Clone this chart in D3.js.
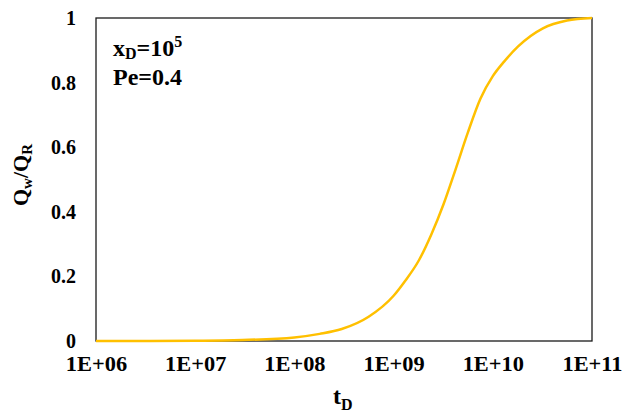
<!DOCTYPE html>
<html>
<head>
<meta charset="utf-8">
<script src="https://cdn.jsdelivr.net/npm/d3@7"></script>
<style>
  body { margin: 0; background: #fff; }
</style>
</head>
<body>
<script>
// dimensionless time and recovery ratio
const tD = [1e6, 3e6, 1e7, 3e7, 1e8, 1.8e8, 3e8, 5.6e8, 1e9, 1.3e9, 1.8e9, 2.4e9,
  3.2e9, 4.2e9, 5.6e9, 7.5e9, 1e10, 1.3e10, 1.8e10, 3.2e10, 5.6e10, 1e11];
const ratio = [0, 0.0002, 0.0008, 0.003, 0.011, 0.022, 0.037, 0.075, 0.14, 0.185, 0.25, 0.33,
  0.425, 0.53, 0.645, 0.75, 0.82, 0.865, 0.912, 0.968, 0.992, 1.0];

const xTicks = [1e6, 1e7, 1e8, 1e9, 1e10, 1e11];
const xTickLabels = ["1E+06", "1E+07", "1E+08", "1E+09", "1E+10", "1E+11"];
const yTicks = [0, 0.2, 0.4, 0.6, 0.8, 1];

const width = 626;
const height = 414;
const margin = { left: 96, right: 34, top: 18, bottom: 73 };
const font = "Liberation Serif";

const svg = d3.select("body").append("svg")
  .attr("width", width).attr("height", height)
  .attr("font-family", font).attr("font-weight", "bold");

const x = d3.scaleLog().domain([1e6, 1e11]).range([margin.left, width - margin.right]);
const y = d3.scaleLinear().domain([0, 1]).range([height - margin.bottom, margin.top]);

// frame
svg.append("rect")
  .attr("x", margin.left).attr("y", margin.top)
  .attr("width", x(1e11) - x(1e6)).attr("height", y(0) - y(1))
  .attr("fill", "none").attr("stroke", "#1a1a1a").attr("stroke-width", 1.3);

// x axis labels
const axisx = d3.axisBottom(x).tickValues(xTicks)
  .tickFormat((d, i) => xTickLabels[i]).tickSize(0).tickPadding(16);
const gx = svg.append("g").attr("transform", "translate(0," + y(0) + ")").call(axisx)
  .attr("font-family", font).attr("font-size", 20);
gx.select(".domain").remove();
gx.selectAll("text").attr("transform", "scale(1.12,1)");

// y axis labels
const axisy = d3.axisLeft(y).tickValues(yTicks)
  .tickFormat(d => d === 0 || d === 1 ? d : d3.format(".1f")(d)).tickSize(0).tickPadding(20);
const gy = svg.append("g").attr("transform", "translate(" + margin.left + ",0)").call(axisy)
  .attr("font-family", font).attr("font-size", 20);
gy.select(".domain").remove();

// curve
const line = d3.line()
  .x((d, i) => x(tD[i]))
  .y(d => y(d))
  .curve(d3.curveMonotoneX);

svg.append("path")
  .datum(ratio)
  .attr("fill", "none")
  .attr("stroke", "#ffc000")
  .attr("stroke-width", 2.5)
  .attr("d", line);

// axis titles
const xt = svg.append("text").attr("x", 333).attr("y", 404).attr("font-size", 24);
xt.append("tspan").text("t");
xt.append("tspan").attr("font-size", 16).attr("dy", 6).text("D");

const yt = svg.append("text")
  .attr("transform", "translate(28,175) rotate(-90)")
  .attr("text-anchor", "middle").attr("font-size", 22);
yt.append("tspan").text("Q");
yt.append("tspan").attr("font-size", 15).attr("dy", 4).text("w");
yt.append("tspan").attr("dy", -4).text("/Q");
yt.append("tspan").attr("font-size", 15).attr("dy", 4).text("R");

// annotation
const a1 = svg.append("text").attr("x", 113).attr("y", 56).attr("font-size", 24);
a1.append("tspan").text("x");
a1.append("tspan").attr("font-size", 16).attr("dy", 3).text("D");
a1.append("tspan").attr("dy", -3).text("=10");
a1.append("tspan").attr("font-size", 16).attr("dy", -9).text("5");

svg.append("text").attr("x", 113).attr("y", 85).attr("font-size", 24).text("Pe=0.4");

svg.selectAll("text").attr("font-family", font).attr("fill", "#000");
</script>
</body>
</html>
